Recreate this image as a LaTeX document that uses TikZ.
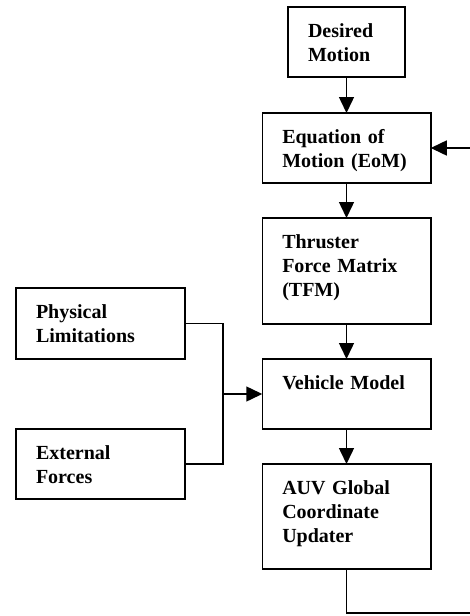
\documentclass[tikz,border=0pt]{standalone}
\usepackage{fontspec}
\setmainfont{Liberation Serif}
\usetikzlibrary{positioning, arrows.meta, calc}

\tikzset{
  blk/.style={draw, line width=1.5pt, inner xsep=20pt, inner ysep=0pt, outer sep=0pt, align=left,
    text height=30pt, font=\fontsize{20pt}{24pt}\selectfont\bfseries},
  wire/.style={line width=1.5pt},
  flow/.style={wire, -{Triangle[length=16pt,width=15pt]}}
}

\begin{document}
\begin{tikzpicture}[node distance=35pt]
    \useasboundingbox (0,0) rectangle (470pt,-616pt);

    \node[blk, text width=77pt, text depth=40pt, anchor=north] (des) at (346.5pt,-7pt) {Desired\\Motion};
    \node[blk, text width=128.5pt, text depth=40pt] (eom) [below=36pt of des] {Equation of\\Motion (EoM)};
    \node[blk, text width=128.5pt, text depth=76pt] (tfm) [below=of eom] {Thruster\\Force Matrix\\(TFM)};
    \node[blk, text width=128.5pt, text depth=40pt] (veh) [below=of tfm] {Vehicle Model};
    \node[blk, text width=128.5pt, text depth=75pt] (auv) [below=of veh] {AUV Global\\Coordinate\\Updater};
    \node[blk, text width=129pt, text depth=41pt, anchor=north west] (phys) at (16pt,-288pt) {Physical\\Limitations};
    \node[blk, text width=129pt, text depth=40pt] (ext) [below=70pt of phys] {External\\Forces};

    \coordinate (join) at ($(phys.east |- veh.west)+(38pt,0)$);
    \coordinate (back) at ($(eom.east)+(60pt,0)$);

    \draw[flow] (des) -- (eom);
    \draw[flow] (eom) -- (tfm);
    \draw[flow] (tfm) -- (veh);
    \draw[flow] (veh) -- (auv);
    \draw[wire] (phys.east) -| (join) |- (ext.east);
    \draw[flow] (join) -- (veh.west);
    \draw[flow] (auv.south) -- ++(0,-44pt) -| (back) -- (eom.east);
\end{tikzpicture}
\end{document}
